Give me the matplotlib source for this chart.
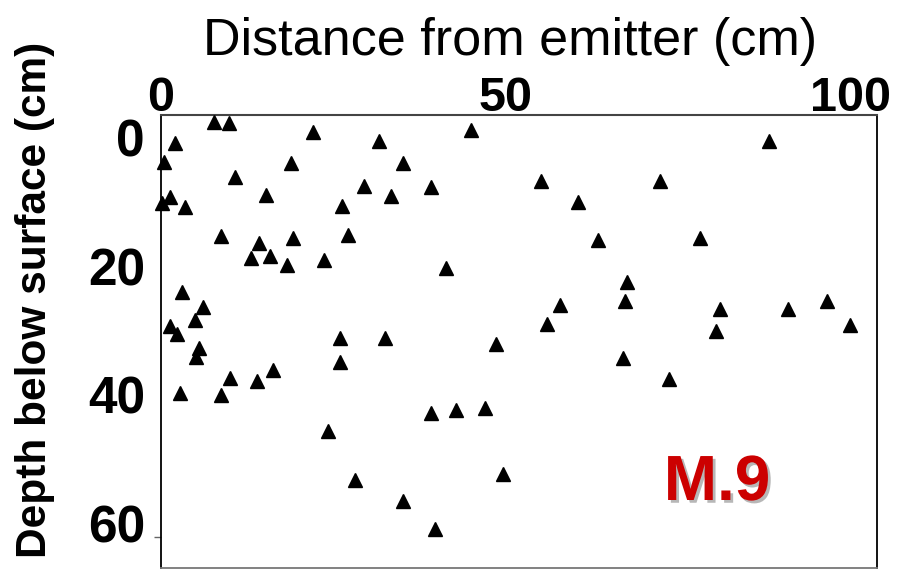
import matplotlib
matplotlib.use("Agg")
import matplotlib.pyplot as plt
import matplotlib.patheffects as pe

plt.rcParams['font.family'] = ['Liberation Sans', 'DejaVu Sans']

# Data
distance_cm = [7.7, 9.8, 22.0, 31.6, 2.1, 0.5, 18.8, 35.1, 10.7, 29.4,
               15.2, 33.4, 1.3, 0.1, 3.5, 26.2, 8.7, 14.2, 19.2, 27.1,
               13.1, 15.8, 18.3, 23.6, 3.1, 6.1, 4.9, 1.3, 2.3, 5.5,
               5.1, 26.0, 32.5, 25.9, 10.0, 13.9, 16.2, 2.7, 8.7, 24.2,
               28.1, 44.9, 39.2, 55.1, 60.4, 63.4, 41.3, 67.6, 67.2, 57.8,
               56.0, 88.1, 72.3, 78.2, 81.0, 90.9, 96.5, 80.5, 99.9, 48.5,
               67.0, 39.1, 42.7, 46.9, 49.6, 35.1, 39.7, 73.7]
depth_cm = [-2.4, -2.2, -0.8, 0.5, 0.9, 3.8, 3.9, 4.0, 6.2, 7.5,
            8.9, 9.1, 9.2, 10.2, 10.8, 10.7, 15.3, 16.4, 15.7, 15.1,
            18.8, 18.4, 19.9, 19.1, 24.1, 26.3, 28.4, 29.3, 30.6, 32.7,
            34.1, 31.2, 31.2, 34.9, 37.4, 37.9, 36.2, 39.8, 40.1, 45.7,
            53.3, -1.1, 7.7, 6.8, 10.1, 15.9, 20.3, 22.5, 25.4, 26.1,
            29.0, 0.5, 6.7, 15.7, 26.7, 26.7, 25.4, 30.1, 29.2, 32.1,
            34.3, 42.9, 42.4, 42.0, 52.4, 56.5, 60.9, 37.6]

x_ticks = [0, 50, 100]
y_ticks = [0, 20, 40, 60]
title_text = "Distance from emitter (cm)"
ylabel_text = "Depth below surface (cm)"
label_text = "M.9"

W, H = 899, 569
fig = plt.figure(figsize=(W / 100, H / 100), dpi=100)
ax = fig.add_axes([161 / W, 0.7 / H, (877 - 161) / W, (568.3 - 115) / H])

ax.plot(distance_cm, depth_cm, linestyle='none', marker='^', color='black',
        markersize=10, clip_on=False, zorder=5)

ax.set_xlim(0, 103.8)
ax.set_ylim(67.0, -3.5)

ax.xaxis.tick_top()
ax.set_xticks(x_ticks)
ax.set_xticklabels([str(v) for v in x_ticks], fontsize=35, fontweight='bold')
ax.set_yticks(y_ticks)
ax.set_yticklabels([str(v) for v in y_ticks], fontsize=37, fontweight='bold')
ax.tick_params(axis='x', length=0, pad=-4)
ax.tick_params(axis='y', length=0, pad=11.5)
ax.set_yticks([62.1], minor=True)
ax.tick_params(axis='y', which='minor', length=5, color='#666666', width=1)

ax.spines['top'].set_color('#444444')
ax.spines['top'].set_linewidth(1.5)
ax.spines['left'].set_color('black')
ax.spines['left'].set_linewidth(1.3)
ax.spines['right'].set_color('black')
ax.spines['right'].set_linewidth(1.3)
ax.spines['bottom'].set_color('#777777')
ax.spines['bottom'].set_linewidth(1.3)

fig.text(510 / W, 1 - 55 / H, title_text, fontsize=37.5, ha='center',
         va='baseline', color='black')
fig.text(35 / W, 1 - 300 / H, ylabel_text, fontsize=30.5, fontweight='bold',
         rotation=90, ha='center', va='center', color='black')

ax.text((717 - 161) / (877 - 161), (568.3 - 500) / (568.3 - 115), label_text,
        transform=ax.transAxes, fontsize=46, fontweight='bold', color='#CC0000',
        ha='center', va='baseline',
        path_effects=[pe.withSimplePatchShadow(offset=(2, -2),
                                               shadow_rgbFace='#999999',
                                               alpha=0.7)])

fig.savefig('out.png', dpi=100)
